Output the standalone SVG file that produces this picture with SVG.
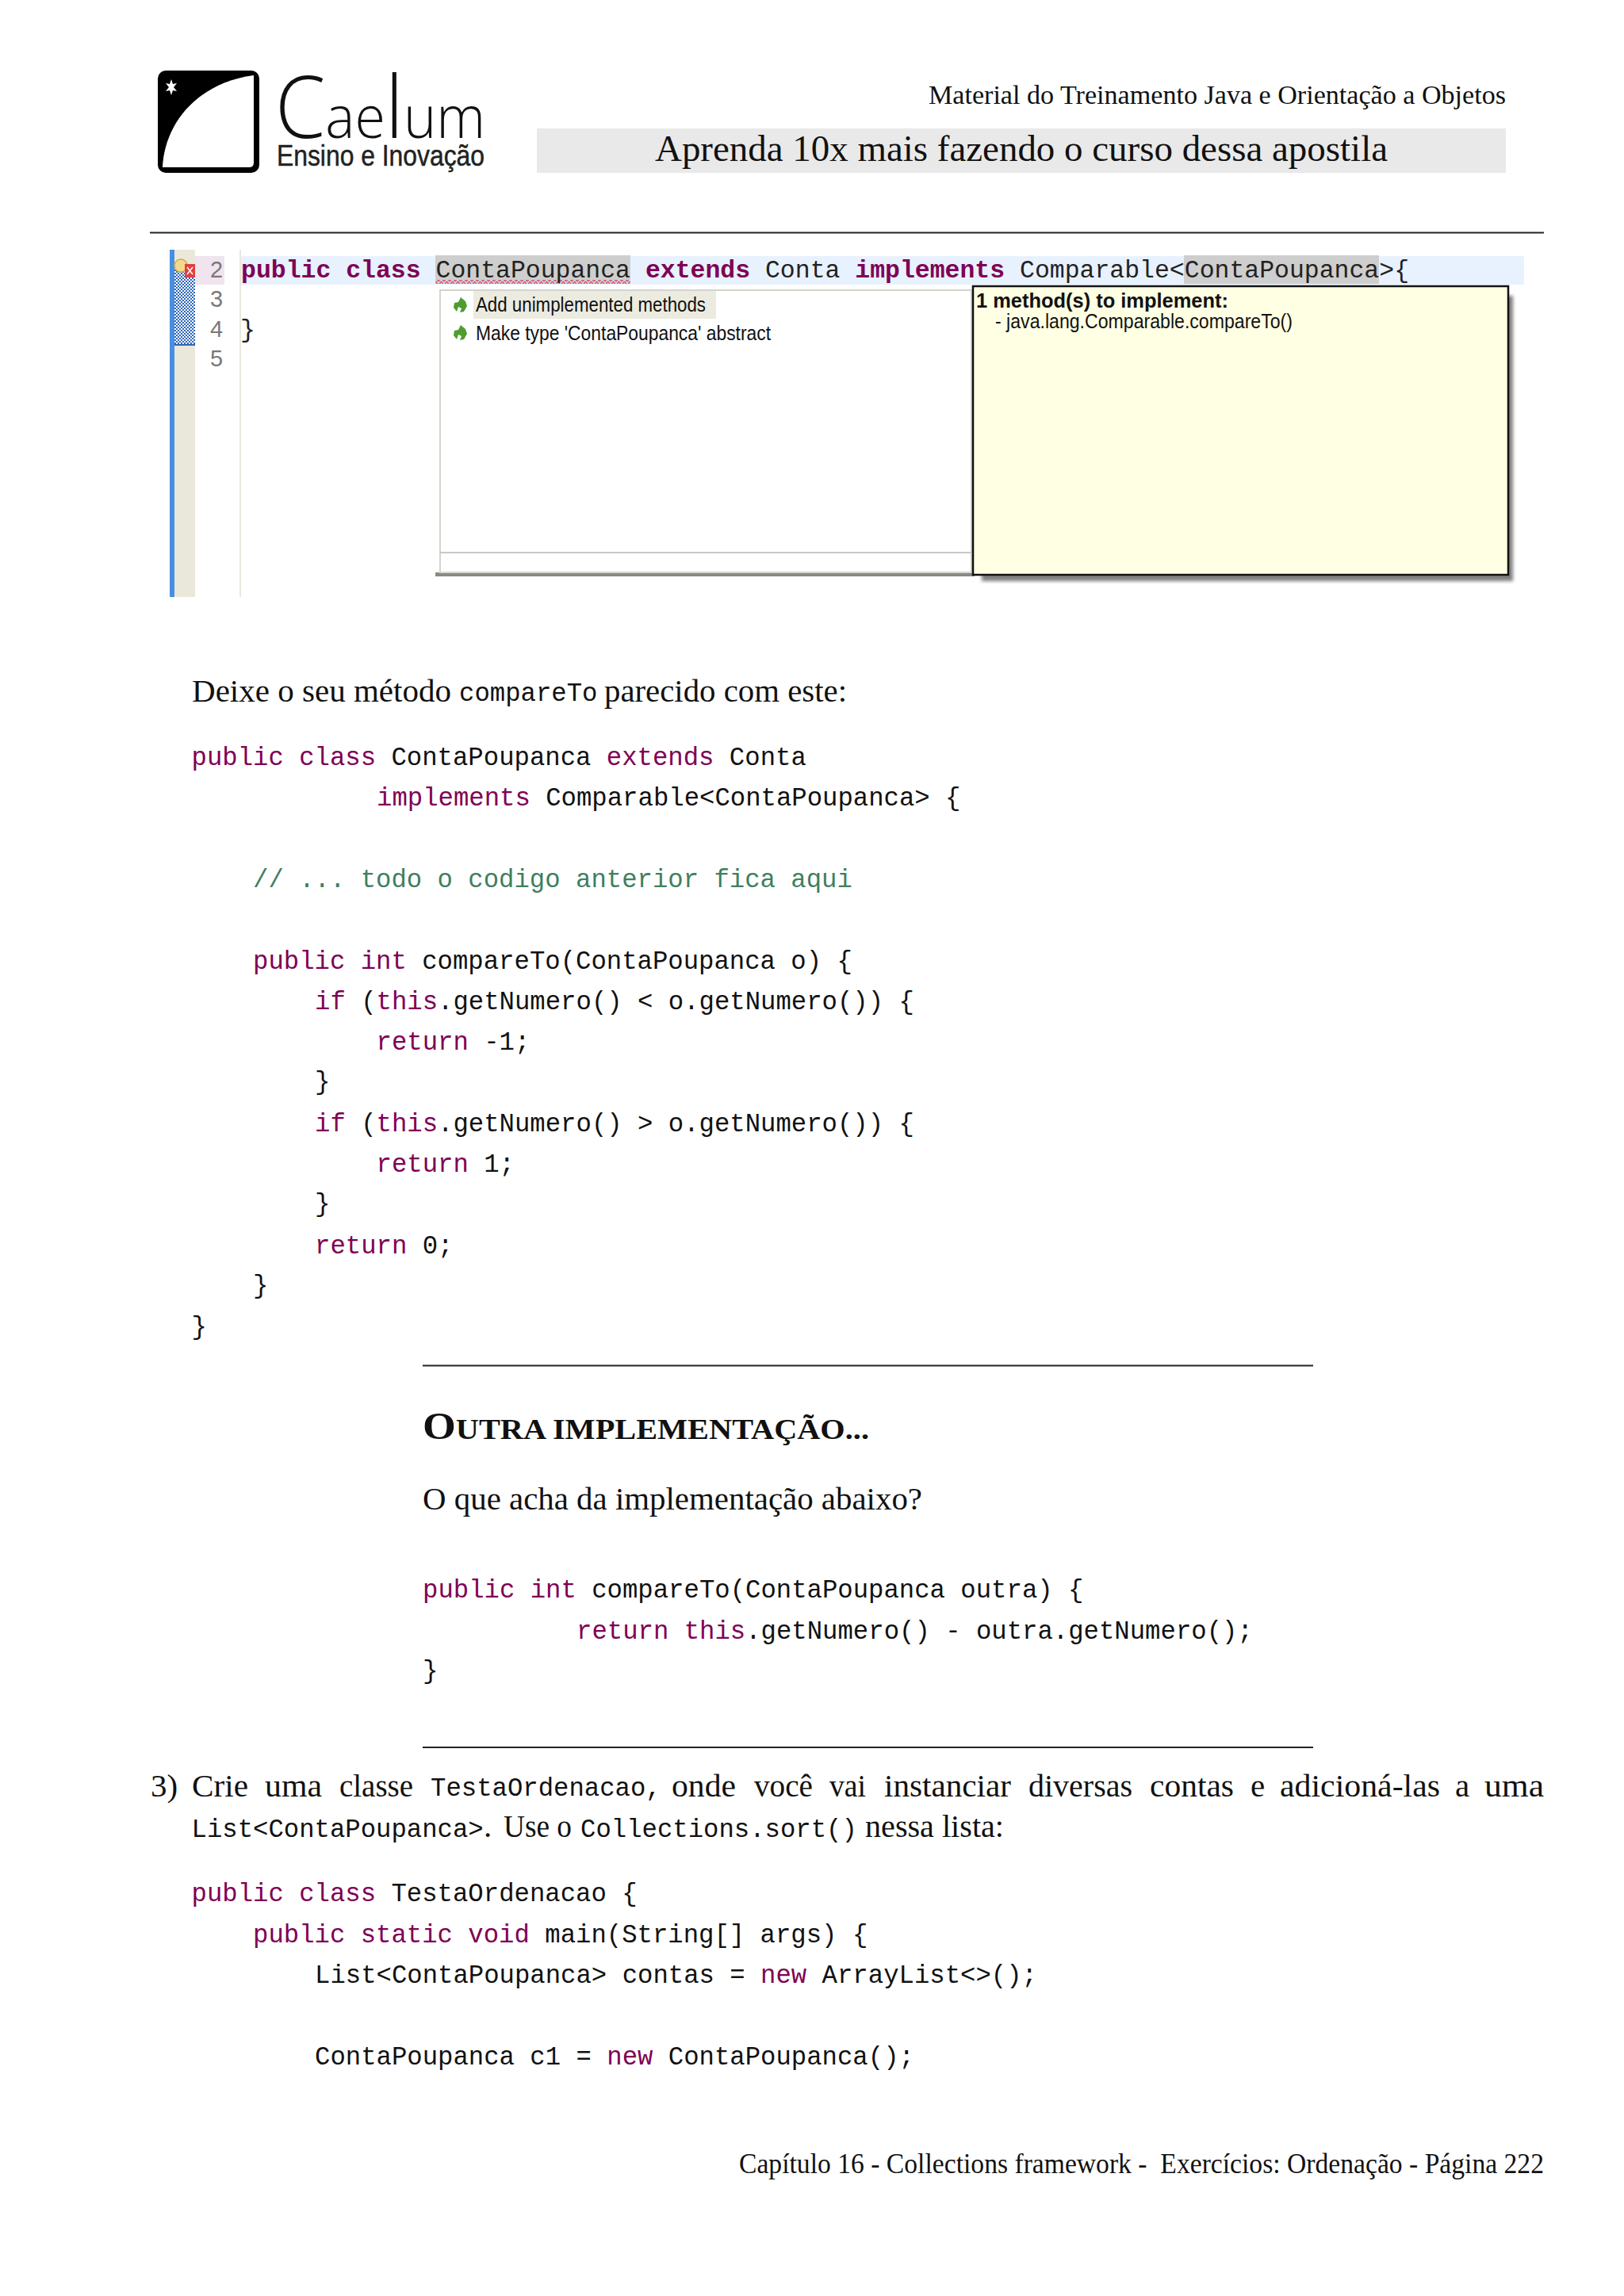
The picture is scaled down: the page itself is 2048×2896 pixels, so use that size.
<svg xmlns="http://www.w3.org/2000/svg" width="2048" height="2896" viewBox="0 0 2048 2896">
<style>
text{white-space:pre}
.s{font-family:"Liberation Serif",serif;fill:#111}
.b{font-size:41px}
.m{font-family:"Liberation Mono",monospace;font-size:32.3px;fill:#111}
.k{fill:#7f0055}
.c{fill:#3f7f5f}
.e{font-family:"Liberation Mono",monospace;font-size:31.47px;fill:#222}
.ek{fill:#7f0055;font-weight:bold}
.n{font-family:"Liberation Sans",sans-serif;font-size:29px;fill:#787878}
.u{font-family:"Liberation Sans",sans-serif;font-size:25px;fill:#111}
.r{stroke:#222;stroke-width:2;fill:none}
</style>
<defs>
<pattern id="hatch" width="4" height="4" patternUnits="userSpaceOnUse"><rect width="4" height="4" fill="#fff"/><rect width="2" height="2" fill="#2f66b8"/><rect x="2" y="2" width="2" height="2" fill="#2f66b8"/></pattern>
<pattern id="sq" width="7" height="5" patternUnits="userSpaceOnUse"><path d="M0 5L3.500 0L7 5" fill="none" stroke="#d8406a" stroke-width="1.200"/></pattern>
<filter id="blur" x="-5%" y="-5%" width="110%" height="110%"><feGaussianBlur stdDeviation="2"/></filter>
<path id="arrow" d="M10 0L16 5L18 11L14 18L9 19L11 14L7 12L5 18L1 13L2 7L7 6Z" fill="#4f9d2f"/>
</defs>
<rect width="2048" height="2896" fill="#fff"/>

<g id="logo">
<rect x="199" y="89" width="128" height="129" rx="10" fill="#000"/>
<path d="M205 211C207 160 245 105 320 95L320 205Q320 211 314 211Z" fill="#fff"/>
<path d="M216 100L218 106L223 105L219 110L223 115L218 114L216 120L214 114L209 115L213 110L209 105L214 106Z" fill="#fff"/>
<text x="347" y="174" font-family="'Open Sans',sans-serif" font-weight="300" font-size="108" fill="#111" textLength="265" lengthAdjust="spacingAndGlyphs">C<tspan font-size="74">ae</tspan>l<tspan font-size="74">um</tspan></text>
<text x="349" y="209" font-family="'Liberation Sans',sans-serif" font-size="36" fill="#222" stroke="#222" stroke-width="0.500" textLength="262" lengthAdjust="spacingAndGlyphs">Ensino e Inovação</text>
</g>

<g id="header">
<text class="s" x="1171" y="131" font-size="34" textLength="728" lengthAdjust="spacingAndGlyphs">Material do Treinamento Java e Orientação a Objetos</text>
<rect x="677" y="162" width="1222" height="56" fill="#e9e9e9"/>
<text class="s" x="826" y="203" font-size="46" textLength="924" lengthAdjust="spacingAndGlyphs">Aprenda 10x mais fazendo o curso dessa apostila</text>
<path class="r" d="M189 293.500H1947"/>
</g>

<g id="screenshot">
<rect x="214" y="315" width="6" height="438" fill="#4a8ee0"/>
<rect x="220" y="315" width="26" height="438" fill="#e9e8da"/>
<rect x="220" y="333" width="26" height="102" fill="url(#hatch)"/>
<rect x="220" y="434" width="26" height="2" fill="#2f66b8"/>
<rect x="302" y="315" width="2" height="438" fill="#e8e8e0"/>
<rect x="246" y="323" width="37" height="36" fill="#f0e4ef"/>
<rect x="304" y="323" width="1618" height="36" fill="#e8f2fe"/>
<rect x="549" y="322" width="246" height="36" fill="#cecece"/>
<rect x="1493" y="322" width="246" height="36" fill="#cecece"/>
<rect x="549" y="353" width="246" height="5" fill="url(#sq)"/>
<circle cx="228" cy="335" r="8" fill="#f5d98a" stroke="#c9a94f" stroke-width="1.500"/>
<rect x="233" y="333" width="13" height="17" fill="#e04040"/>
<path d="M236 337L243 346M243 337L236 346" stroke="#fff" stroke-width="1.500"/>
<text class="n" x="265" y="350">2</text>
<text class="n" x="265" y="387">3</text>
<text class="n" x="265" y="425">4</text>
<text class="n" x="265" y="462">5</text>
<text class="e" x="304" y="350"><tspan class="ek">public class</tspan> ContaPoupanca <tspan class="ek">extends</tspan> Conta <tspan class="ek">implements</tspan> Comparable&lt;ContaPoupanca&gt;{</text>
<text class="e" x="303" y="425">}</text>

<rect x="549" y="722" width="680" height="5" fill="#8a8a84"/>
<rect x="555" y="366" width="670" height="356" fill="#fff" stroke="#d4d4cc" stroke-width="2"/>
<path d="M555 697H1225" stroke="#c8c8c4" stroke-width="2"/>
<rect x="597" y="367" width="306" height="35" fill="#ecebe0"/>
<use href="#arrow" x="571" y="375"/>
<use href="#arrow" x="571" y="410"/>
<text class="u" x="600" y="393" textLength="290" lengthAdjust="spacingAndGlyphs">Add unimplemented methods</text>
<text class="u" x="600" y="429" textLength="372" lengthAdjust="spacingAndGlyphs">Make type 'ContaPoupanca' abstract</text>

<rect x="1238" y="373" width="670" height="360" fill="#808080" filter="url(#blur)"/>
<rect x="1227" y="361" width="675" height="364" fill="#ffffe3" stroke="#111" stroke-width="2.500"/>
<text class="u" x="1231" y="388" font-weight="bold" textLength="318" lengthAdjust="spacingAndGlyphs">1 method(s) to implement:</text>
<text class="u" x="1255" y="414" textLength="375" lengthAdjust="spacingAndGlyphs">- java.lang.Comparable.compareTo()</text>
</g>

<g id="page-body">
<text class="s b" x="242" y="885" textLength="327" lengthAdjust="spacingAndGlyphs">Deixe o seu método</text>
<text class="m" x="579" y="884">compareTo</text>
<text class="s b" x="762" y="885" textLength="306" lengthAdjust="spacingAndGlyphs">parecido com este:</text>

<text class="m" x="241.500" y="965"><tspan class="k">public class</tspan> ContaPoupanca <tspan class="k">extends</tspan> Conta</text>
<text class="m" x="475" y="1015.500"><tspan class="k">implements</tspan> Comparable&lt;ContaPoupanca&gt; {</text>
<text class="m c" x="319" y="1119">// ... todo o codigo anterior fica aqui</text>
<text class="m" x="319" y="1222"><tspan class="k">public int</tspan> compareTo(ContaPoupanca o) {</text>
<text class="m" x="397" y="1272.500"><tspan class="k">if</tspan> (<tspan class="k">this</tspan>.getNumero() &lt; o.getNumero()) {</text>
<text class="m" x="474.500" y="1324"><tspan class="k">return</tspan> -1;</text>
<text class="m" x="397" y="1374">}</text>
<text class="m" x="397" y="1426.500"><tspan class="k">if</tspan> (<tspan class="k">this</tspan>.getNumero() &gt; o.getNumero()) {</text>
<text class="m" x="474.500" y="1478"><tspan class="k">return</tspan> 1;</text>
<text class="m" x="397" y="1528">}</text>
<text class="m" x="397" y="1581"><tspan class="k">return</tspan> 0;</text>
<text class="m" x="319" y="1631">}</text>
<text class="m" x="241.500" y="1682.500">}</text>
</g>

<g id="box">
<path class="r" d="M533 1722.500H1656"/>
<text class="s" x="533" y="1815" font-weight="bold" textLength="563" lengthAdjust="spacingAndGlyphs"><tspan font-size="48">O</tspan><tspan font-size="36">UTRA IMPLEMENTAÇÃO...</tspan></text>
<text class="s b" x="533" y="1904" textLength="630" lengthAdjust="spacingAndGlyphs">O que acha da implementação abaixo?</text>
<text class="m" x="533" y="2015"><tspan class="k">public int</tspan> compareTo(ContaPoupanca outra) {</text>
<text class="m" x="727" y="2066.500"><tspan class="k">return this</tspan>.getNumero() - outra.getNumero();</text>
<text class="m" x="533" y="2116.500">}</text>
<path class="r" d="M533 2204H1656"/>
</g>

<g id="exercise">
<text class="s b" x="190" y="2266">3)</text>
<text class="s b" x="242" y="2266" textLength="71" lengthAdjust="spacingAndGlyphs">Crie</text>
<text class="s b" x="334" y="2266" textLength="72" lengthAdjust="spacingAndGlyphs">uma</text>
<text class="s b" x="428" y="2266" textLength="93" lengthAdjust="spacingAndGlyphs">classe</text>
<text class="m" x="543" y="2265">TestaOrdenacao,</text>
<text class="s b" x="847" y="2266" textLength="81" lengthAdjust="spacingAndGlyphs">onde</text>
<text class="s b" x="951" y="2266" textLength="74" lengthAdjust="spacingAndGlyphs">você</text>
<text class="s b" x="1046" y="2266" textLength="46" lengthAdjust="spacingAndGlyphs">vai</text>
<text class="s b" x="1115" y="2266" textLength="160" lengthAdjust="spacingAndGlyphs">instanciar</text>
<text class="s b" x="1297" y="2266" textLength="131" lengthAdjust="spacingAndGlyphs">diversas</text>
<text class="s b" x="1450" y="2266" textLength="106" lengthAdjust="spacingAndGlyphs">contas</text>
<text class="s b" x="1577" y="2266">e</text>
<text class="s b" x="1614" y="2266" textLength="202" lengthAdjust="spacingAndGlyphs">adicioná-las</text>
<text class="s b" x="1835" y="2266">a</text>
<text class="s b" x="1872" y="2266" textLength="75" lengthAdjust="spacingAndGlyphs">uma</text>
<text class="m" x="241.500" y="2317">List&lt;ContaPoupanca&gt;</text>
<text class="s b" x="610" y="2317">.</text>
<text class="s b" x="635" y="2317" textLength="86" lengthAdjust="spacingAndGlyphs">Use o</text>
<text class="m" x="732" y="2317">Collections.sort()</text>
<text class="s b" x="1091" y="2317" textLength="175" lengthAdjust="spacingAndGlyphs">nessa lista:</text>
<text class="m" x="241.500" y="2398"><tspan class="k">public class</tspan> TestaOrdenacao {</text>
<text class="m" x="319" y="2449.500"><tspan class="k">public static void</tspan> main(String[] args) {</text>
<text class="m" x="397" y="2501">List&lt;ContaPoupanca&gt; contas = <tspan class="k">new</tspan> ArrayList&lt;&gt;();</text>
<text class="m" x="397" y="2604">ContaPoupanca c1 = <tspan class="k">new</tspan> ContaPoupanca();</text>
</g>

<g id="footer">
<text class="s" x="932" y="2741" font-size="36" textLength="1015" lengthAdjust="spacingAndGlyphs">Capítulo 16 - Collections framework -  Exercícios: Ordenação - Página 222</text>
</g>
</svg>
